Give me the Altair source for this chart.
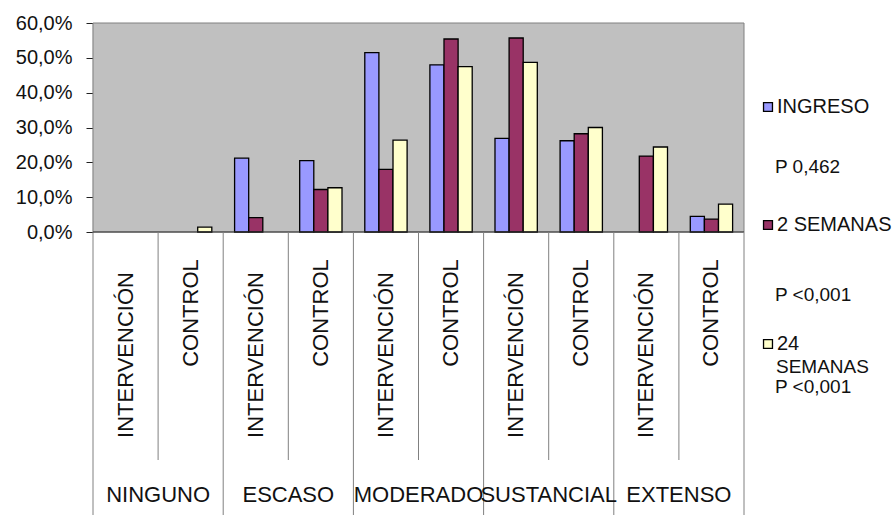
import altair as alt
import pandas as pd

# ---- data ----
categories = ["NINGUNO", "ESCASO", "MODERADO", "SUSTANCIAL", "EXTENSO"]
groups = ["INTERVENCIÓN", "CONTROL"]
series = ["INGRESO", "2 SEMANAS", "24 SEMANAS"]
colors = ["#9999FF", "#993366", "#FFFFCC"]

ingreso = [0, 0, 21.2, 20.5, 51.5, 48.0, 26.9, 26.2, 0, 4.5]
sem2 = [0, 0, 4.1, 12.2, 18.0, 55.4, 55.7, 28.2, 21.8, 3.7]
sem24 = [0, 1.4, 0, 12.7, 26.4, 47.5, 48.7, 30.0, 24.4, 8.0]
y_ticks = [0, 10, 20, 30, 40, 50, 60]

legend_pvalues = ["P 0,462", "P <0,001", "P <0,001"]

# ---- tables ----
subs, sub_cat, sub_grp = [], [], []
for c in categories:
    for g in groups:
        subs.append(c + "|" + g)
        sub_cat.append(c)
        sub_grp.append(g)

rows = []
for s_name, vals in zip(series, [ingreso, sem2, sem24]):
    for sub, v in zip(subs, vals):
        rows.append({"sub": sub, "serie": s_name, "v": v})
bars_df = pd.DataFrame(rows)
sub_df = pd.DataFrame({"sub": subs, "cat": sub_cat, "grp": sub_grp})
cat_df = pd.DataFrame({"cat": categories, "center": [2 * i + 1 for i in range(len(categories))]})
major_df = pd.DataFrame({"pos": [2 * i for i in range(len(categories) + 1)]})
minor_df = pd.DataFrame({"pos": [2 * i + 1 for i in range(len(categories))]})
one = pd.DataFrame({"k": [0]})

FONT = "Liberation Sans"
TXT = "#111111"
W, PH, H = 651, 209, 492

xband = alt.X("sub:N", sort=subs, axis=None,
              scale=alt.Scale(domain=subs, paddingInner=0.35, paddingOuter=0.175))

bg = alt.Chart(one).mark_rect(fill="#C0C0C0", stroke="#808080", strokeWidth=1).encode(
    x=alt.value(0), x2=alt.value(W), y=alt.value(0), y2=alt.value(PH))

bars = alt.Chart(bars_df).transform_filter("datum.v > 0").mark_bar(
    stroke="black", strokeWidth=1.3).encode(
    x=xband,
    xOffset=alt.XOffset("serie:N", sort=series,
                        scale=alt.Scale(domain=series, paddingInner=0, paddingOuter=0)),
    y=alt.Y("v:Q", scale=alt.Scale(domain=[0, 60], range=[PH, 0]),
            axis=alt.Axis(values=y_ticks, title=None, grid=False,
                          labelExpr="replace(format(datum.value, '.1f'), '.', ',') + '%'",
                          labelFontSize=20, labelFont=FONT, labelColor=TXT,
                          labelPadding=14, tickSize=7, tickColor="#222222",
                          domainColor="#222222", domainWidth=1.2)),
    color=alt.Color("serie:N", scale=alt.Scale(domain=series, range=colors), legend=None),
)

x_axis_line = alt.Chart(one).mark_rule(color="#333333", strokeWidth=1.2).encode(
    x=alt.value(0), x2=alt.value(W), y=alt.value(PH))

text_int = alt.Chart(sub_df).transform_filter("datum.grp == 'INTERVENCIÓN'").mark_text(
    angle=270, align="center", baseline="middle", font=FONT, fontSize=22, color=TXT).encode(
    x=xband, y=alt.value(332), text="grp:N")
text_ctl = alt.Chart(sub_df).transform_filter("datum.grp == 'CONTROL'").mark_text(
    angle=270, align="center", baseline="middle", font=FONT, fontSize=22, color=TXT).encode(
    x=xband, y=alt.value(290), text="grp:N")

main = alt.layer(bg, bars, x_axis_line, text_int, text_ctl)

xq = alt.X("pos:Q", scale=alt.Scale(domain=[0, 10], range=[0, W], nice=False, zero=False), axis=None)
major = alt.Chart(major_df).mark_rule(color="#808080", strokeWidth=1).encode(
    x=xq, y=alt.value(PH), y2=alt.value(H))
minor = alt.Chart(minor_df).mark_rule(color="#808080", strokeWidth=1).encode(
    x=xq, y=alt.value(PH), y2=alt.value(437))
cat_text = alt.Chart(cat_df).mark_text(
    align="center", baseline="middle", font=FONT, fontSize=22, color=TXT).encode(
    x=alt.X("center:Q", scale=alt.Scale(domain=[0, 10], range=[0, W], nice=False, zero=False), axis=None),
    y=alt.value(472), text="cat:N")
table = alt.layer(major, minor, cat_text)

# ---- legend ----
def square(color, y):
    return alt.Chart(one).mark_point(shape="square", size=80, filled=True, fill=color,
                                     stroke="black", strokeWidth=1.3, opacity=1).encode(
        x=alt.value(675), y=alt.value(y))

def label(txt, x, y, size=20):
    return alt.Chart(one).mark_text(align="left", baseline="middle", font=FONT,
                                    fontSize=size, color=TXT, text=txt).encode(
        x=alt.value(x), y=alt.value(y))

legend = alt.layer(
    square(colors[0], 84), label(series[0], 684, 84),
    label(legend_pvalues[0], 682, 144, 19),
    square(colors[1], 202), label(series[1], 684, 202),
    label(legend_pvalues[1], 682, 272, 19),
    square(colors[2], 321), label("24", 684, 321),
    label("SEMANAS", 683, 344, 19),
    label(legend_pvalues[2], 682, 364, 19),
)

chart = alt.layer(main, table, legend).resolve_scale(x="independent", y="independent").properties(
    width=W, height=H,
    autosize=alt.AutoSizeParams(type="none"),
    padding={"left": 93, "top": 23, "right": 152, "bottom": 0},
    background="white",
).configure_view(stroke=None)

chart.save("out.html", embed_options={"renderer": "svg", "actions": False})
